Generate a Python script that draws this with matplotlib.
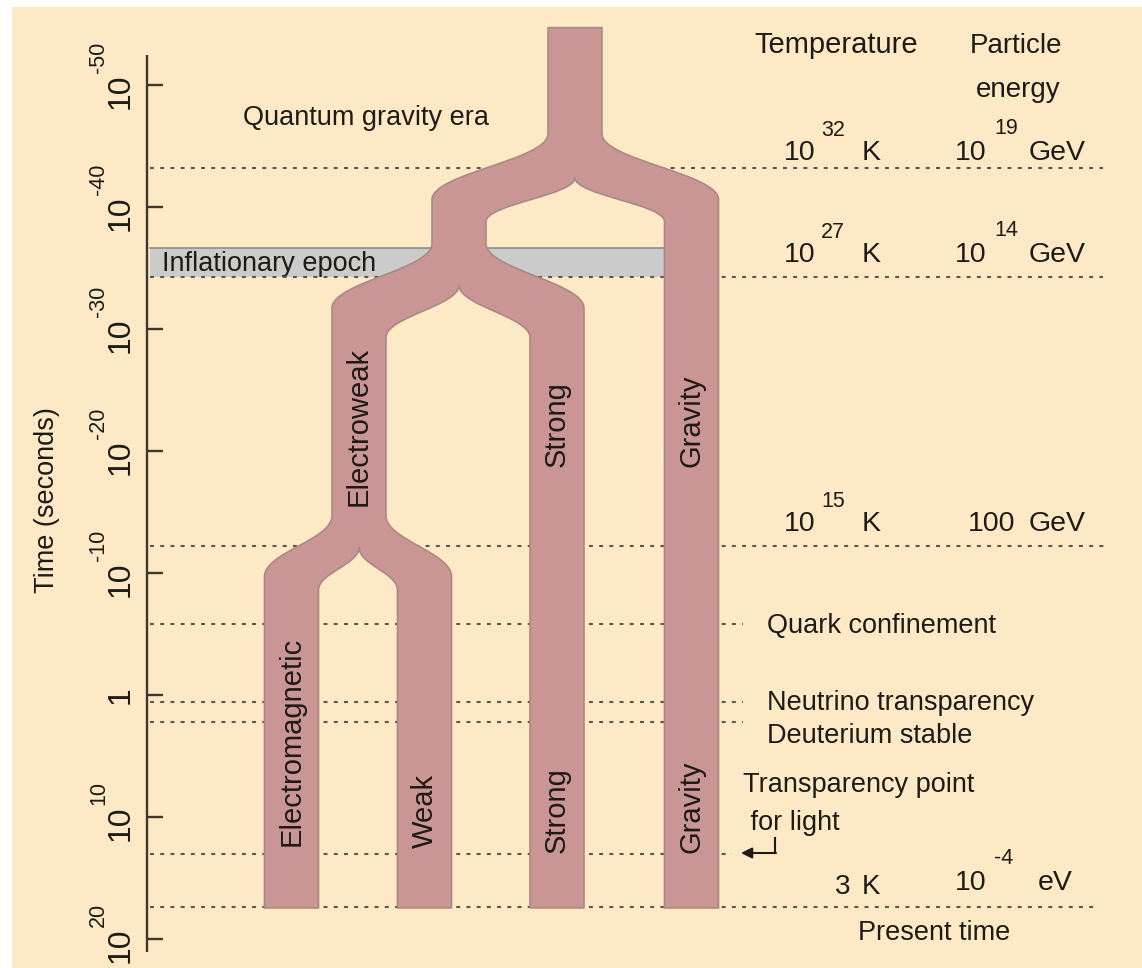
import matplotlib
matplotlib.use("Agg")
import matplotlib.pyplot as plt
from matplotlib.path import Path
from matplotlib.patches import PathPatch, Rectangle
from matplotlib.transforms import Affine2D

plt.rcParams["font.family"] = ["Liberation Sans", "DejaVu Sans"]

# ---- palette ---------------------------------------------------------------
BG, PINK, PINK_EDGE = "#fde9c6", "#c99595", "#a88a84"
BAND, BAND_EDGE = "#cbcbcb", "#8c8c8c"
INK, DOT, AXIS = "#1e1a16", "#5a5650", "#3f372b"

W, H = 1142, 968
ZERO_PIX, PIX_PER_DEC = 695, 12.2          # y position of t = 1 s, pixels per decade

# ---- data (time as log10 seconds) -----------------------------------------
TICK_EXP = [-50, -40, -30, -20, -10, 0, 10, 20]
EVENT_EXP = [-43.2, -34.3, -12.2, -5.8, 0.6, 2.2, 13.0, 17.4]
EVENT_END_X = [1103, 1103, 1107, 743, 743, 743, 732, 1095]
INFLATION = (-36.6, -34.3)

# branching tree of the forces
TRUNK_X, TRUNK_TOP, BOTTOM, COL_W = 575, -54.7, 17.45, 54
SPLIT_LEFT_X = [459, 359, 291.5]
SPLIT_RIGHT_X = [691.5, 557, 424.5]
SPLIT_START = [-46.0, -37.0, -14.7]
SPLIT_CUSP = [-42.4, -33.6, -12.1]
SPLIT_OUTER_END = [-40.6, -31.7, -9.7]
SPLIT_INNER_END = [-38.8, -29.3, -8.6]
SPLIT_LEFT_NEXT = [1, 2, -1]
SPLIT_RIGHT_NEXT = [-1, -1, -1]

FORCE_LABELS = ["Electroweak", "Strong", "Gravity", "Electromagnetic", "Weak", "Strong", "Gravity"]
FORCE_X = [359, 557, 691.5, 291.5, 424.5, 557, 691.5]
FORCE_Y = [426, 424, 421, 741, 811, 810, 807]

TEMP_EXP = ["32", "27", "15", None]
ENERGY_EXP = ["19", "14", None, "-4"]
ENERGY_UNIT = ["GeV", "GeV", "GeV", "eV"]
ROW_BASE = [160, 262, 531, 890]

EVENT_TEXT = ["Quark confinement", "Neutrino transparency", "Deuterium stable",
              "Transparency point", " for light"]
EVENT_TEXT_Y = [633, 710, 743, 792, 830]
EVENT_TEXT_X = [767, 767, 767, 743, 743]

FS = 19.5
A = 0.4

fig = plt.figure(figsize=(W / 100, H / 100), dpi=100, facecolor="white")
ax = fig.add_axes([0, 0, 1, 1])
ax.set_xlim(0, W)
ax.set_ylim((H - ZERO_PIX) / PIX_PER_DEC, -ZERO_PIX / PIX_PER_DEC)
ax.axis("off")
PX = Affine2D().scale(1, -1).translate(0, H)     # pixel coords, origin top-left

ax.add_patch(Rectangle((12, 7), W - 12, H - 7, transform=PX, facecolor=BG,
                       edgecolor="none", zorder=0))

# inflation band
ax.add_patch(Rectangle((150, INFLATION[0]), 665 - 150, INFLATION[1] - INFLATION[0],
                       facecolor=BAND, edgecolor="none", zorder=1))
ax.plot([150, 665], [INFLATION[0]] * 2, color=BAND_EDGE, lw=1.2, zorder=1)

# event lines
for e, xe in zip(EVENT_EXP, EVENT_END_X):
    ax.plot([150, xe], [e, e], color=DOT, lw=1.5, ls=(0, (1.9, 3.0)), zorder=2)

# time axis
ax.plot([147, 147], [-52.5, 21.1], color=AXIS, lw=1.7, zorder=2, solid_capstyle="butt")
for t in TICK_EXP:
    ax.plot([147, 163], [t, t], color=AXIS, lw=1.7, zorder=2, solid_capstyle="butt")
    ty = ZERO_PIX + t * PIX_PER_DEC
    if t == 0:
        ax.text(136, ty, "1", transform=PX, rotation=90, ha="right", va="center",
                fontsize=23, color=INK)
        continue
    ax.text(136, ty + 6, "10", transform=PX, rotation=90, ha="right", va="center",
            fontsize=23, color=INK)
    ax.text(109, ty - 12, str(t), transform=PX, rotation=90, ha="right", va="bottom",
            fontsize=15.5, color=INK)
ax.text(47, 500, "Time (seconds)", transform=PX, rotation=90, ha="center", va="center",
        fontsize=FS, color=INK)


# tree outline
def build_tree():
    verts, codes = [], []
    hw = COL_W / 2

    def line(p):
        verts.append(p); codes.append(Path.LINETO)

    def curve(p1, p2, p3):
        verts.extend([p1, p2, p3]); codes.extend([Path.CURVE4] * 3)

    def column(xc, s, y_right_top):
        L, R = xc - hw, xc + hw
        if s < 0:
            line((L, BOTTOM)); line((R, BOTTOM)); line((R, y_right_top))
            return
        y0, yc, yo, yi = SPLIT_START[s], SPLIT_CUSP[s], SPLIT_OUTER_END[s], SPLIT_INNER_END[s]
        lx, rx = SPLIT_LEFT_X[s], SPLIT_RIGHT_X[s]
        ho, hi = yo - y0, yi - yc
        line((L, y0))
        curve((L, y0 + A * ho), (lx - hw, yo - A * ho), (lx - hw, yo))
        column(lx, SPLIT_LEFT_NEXT[s], yi)
        curve((lx + hw, yi - A * hi), (xc, yc + A * hi), (xc, yc))
        curve((xc, yc + A * hi), (rx - hw, yi - A * hi), (rx - hw, yi))
        column(rx, SPLIT_RIGHT_NEXT[s], yo)
        curve((rx + hw, yo - A * ho), (R, y0 + A * ho), (R, y0))
        line((R, y_right_top))

    verts.append((TRUNK_X - hw, TRUNK_TOP)); codes.append(Path.MOVETO)
    column(TRUNK_X, 0, TRUNK_TOP)
    verts.append((0, 0)); codes.append(Path.CLOSEPOLY)
    return Path(verts, codes)


ax.add_patch(PathPatch(build_tree(), facecolor=PINK, edgecolor=PINK_EDGE, lw=1.2,
                       joinstyle="round", zorder=3))

for s, x, y in zip(FORCE_LABELS, FORCE_X, FORCE_Y):
    ax.text(x, y, s, transform=PX, rotation=90, ha="center", va="center",
            fontsize=21, color=INK, zorder=4)

# era labels
ax.text(366, 125, "Quantum gravity era", transform=PX, ha="center", va="baseline",
        fontsize=FS, color=INK, zorder=4)
ax.text(162, 271, "Inflationary epoch", transform=PX, ha="left", va="baseline",
        fontsize=FS, color=INK, zorder=1.5)

# column headers
ax.text(836, 53, "Temperature", transform=PX, ha="center", va="baseline", fontsize=21, color=INK)
ax.text(1016, 53, "Particle", transform=PX, ha="center", va="baseline", fontsize=20, color=INK)
ax.text(1018, 97, "energy", transform=PX, ha="center", va="baseline", fontsize=20, color=INK)

# temperature / energy rows
for te, ee, unit, yb in zip(TEMP_EXP, ENERGY_EXP, ENERGY_UNIT, ROW_BASE):
    kw = dict(transform=PX, va="baseline", color=INK, zorder=4)
    if te is None:
        ax.text(835, yb + 4, "3", fontsize=20, **kw)
        ax.text(862, yb + 4, "K", fontsize=20, **kw)
    else:
        ax.text(784, yb, "10", fontsize=20.5, **kw)
        ax.text(821, yb - 24, te, fontsize=15.5, **kw)
        ax.text(862, yb, "K", fontsize=20.5, **kw)
    if ee is None:
        ax.text(968, yb, "100", fontsize=20.5, **kw)
        ax.text(1029, yb, unit, fontsize=20.5, **kw)
    else:
        ax.text(955, yb, "10", fontsize=20.5, **kw)
        ax.text(994, yb - 26, ee, fontsize=15.5, **kw)
        ax.text(1029 if unit == "GeV" else 1038, yb, unit, fontsize=20.5, **kw)

ax.text(934, 940, "Present time", transform=PX, ha="center", va="baseline", fontsize=FS, color=INK)

for s, x, y in zip(EVENT_TEXT, EVENT_TEXT_X, EVENT_TEXT_Y):
    ax.text(x, y, s, transform=PX, ha="left", va="baseline", fontsize=FS, color=INK)

# arrow for light transparency
ax.plot([775, 775], [838, 853], transform=PX, color=INK, lw=1.5)
ax.annotate("", xy=(741, 853), xytext=(776, 853), xycoords=PX, textcoords=PX,
            arrowprops=dict(arrowstyle="-|>", color=INK, lw=1.5, mutation_scale=16,
                            shrinkA=0, shrinkB=0))

fig.savefig("out.png", dpi=100, facecolor="white")
